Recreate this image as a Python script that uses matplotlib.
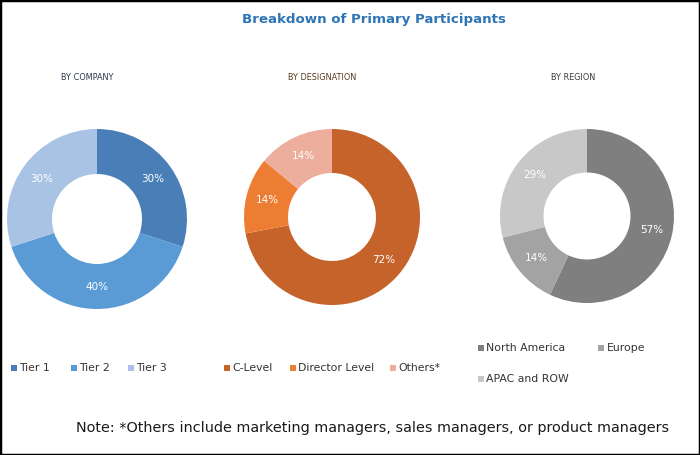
import matplotlib
matplotlib.use("Agg")
import matplotlib.pyplot as plt
from matplotlib.patches import Rectangle

W, H = 700, 455

company_labels = ["Tier 1", "Tier 2", "Tier 3"]
company_values = [30, 40, 30]
company_colors = ["#4A7EB6", "#5B9BD5", "#A8C3E4"]

designation_labels = ["C-Level", "Director Level", "Others*"]
designation_values = [72, 14, 14]
designation_colors = ["#C5632A", "#EC7D32", "#EDAE9E"]

region_labels = ["North America", "Europe", "APAC and ROW"]
region_values = [57, 14, 29]
region_colors = ["#7F7F7F", "#A3A3A3", "#C8C8C8"]

subtitles = ["BY COMPANY", "BY DESIGNATION", "BY REGION"]
title = "Breakdown of Primary Participants"
note = "Note: *Others include marketing managers, sales managers, or product managers"

fig = plt.figure(figsize=(W / 100, H / 100), dpi=100)
fig.patch.set_facecolor("white")

def fx(x):
    return x / W

def fy(y):
    return 1 - y / H

def donut(cx, cy, r, values, colors):
    ax = fig.add_axes([fx(cx - r), fy(cy + r), 2 * r / W, 2 * r / H])
    ax.pie(values, colors=colors, startangle=90, counterclock=False,
           radius=1.0, wedgeprops=dict(width=0.5, edgecolor="none"),
           autopct=lambda p: f"{p:.0f}%", pctdistance=0.76,
           textprops=dict(color="white", fontsize=7.5))
    ax.set_xlim(-1, 1)
    ax.set_ylim(-1, 1)
    ax.set_aspect("equal")
    ax.axis("off")
    return ax

donut(97, 219, 90, company_values, company_colors)
donut(332, 217, 88, designation_values, designation_colors)
donut(587, 216, 87, region_values, region_colors)

fig.text(fx(374), fy(20), title, ha="center", va="center", fontsize=9.6,
         fontweight="bold", color="#2E75B6")

for x, s, c in zip([87, 322, 573], subtitles, ["#2B3648", "#5A3A22", "#3A3A3A"]):
    fig.text(fx(x), fy(77), s, ha="center", va="center", fontsize=5.9,
             color=c)

def legend_item(x, y, label, color):
    s = 5.5
    fig.patches.append(Rectangle((fx(x), fy(y + s / 2)), s / W, s / H,
                                 transform=fig.transFigure, facecolor=color,
                                 edgecolor="none"))
    fig.text(fx(x + s + 3), fy(y), label, ha="left", va="center",
             fontsize=7.8, color="#333333")

for x, lab, c in zip([11, 71, 128], company_labels, company_colors):
    legend_item(x, 368, lab, c)
for x, lab, c in zip([224, 290, 390], designation_labels, designation_colors):
    legend_item(x, 368, lab, c)
for (x, y), lab, c in zip([(478, 348), (598, 348), (478, 379)], region_labels, region_colors):
    legend_item(x, y, lab, c)

fig.text(fx(373), fy(428), note, ha="center", va="center", fontsize=10.4,
         color="#1A1A1A")

fig.patches.append(Rectangle((0, 0), 1, 1, transform=fig.transFigure,
                             facecolor="none", edgecolor="black", linewidth=2.5))

fig.savefig("out.png", dpi=100, facecolor="white")
